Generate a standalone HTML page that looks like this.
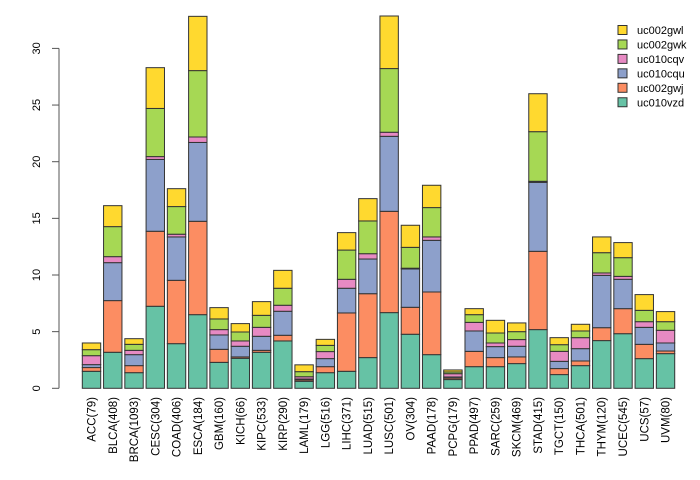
<!DOCTYPE html>
<html><head><meta charset="utf-8">
<style>
html,body{margin:0;padding:0;background:#fff;}
svg{display:block;font-family:"Liberation Sans",sans-serif;}
</style></head>
<body>
<svg id="chart" width="700" height="480" viewBox="0 0 700 480">
<g id="axis"></g>
<g id="bars"></g>
<g id="xlabels"></g>
<g id="legend"></g>
</svg>
<script>
const categories = ["ACC(79)","BLCA(408)","BRCA(1093)","CESC(304)","COAD(406)","ESCA(184)","GBM(160)","KICH(66)","KIPC(533)","KIRP(290)","LAML(179)","LGG(516)","LIHC(371)","LUAD(515)","LUSC(501)","OV(304)","PAAD(178)","PCPG(179)","PPAD(497)","SARC(259)","SKCM(469)","STAD(415)","TGCT(150)","THCA(501)","THYM(120)","UCEC(545)","UCS(57)","UVM(80)"];
const seriesNames = ["uc010vzd","uc002gwj","uc010cqu","uc010cqv","uc002gwk","uc002gwl"];
const uc010vzd = [1.5,3.18,1.38,7.24,3.94,6.5,2.29,2.65,3.18,4.18,0.62,1.38,1.5,2.71,6.68,4.77,2.97,0.77,1.91,1.91,2.18,5.18,1.21,2.0,4.21,4.82,2.62,3.06];
const uc002gwj = [0.33,4.56,0.62,6.62,5.59,8.24,1.15,0.12,0.17,0.5,0.12,0.53,5.15,5.64,8.94,2.38,5.53,0.13,1.35,0.8,0.59,6.91,0.53,0.41,1.14,2.21,1.26,0.23];
const uc010cqu = [0.26,3.35,0.97,6.34,3.83,6.96,1.27,0.94,1.24,2.12,0.08,0.71,2.18,3.06,6.62,3.38,4.56,0.1,1.8,0.97,0.94,6.09,0.64,1.09,4.62,2.59,1.5,0.71];
const uc010cqv = [0.79,0.53,0.38,0.25,0.24,0.48,0.47,0.47,0.79,0.53,0.2,0.62,0.79,0.47,0.36,0.07,0.3,0.29,0.76,0.32,0.59,0.09,0.88,0.97,0.21,0.26,0.5,1.12];
const uc002gwk = [0.53,2.65,0.53,4.25,2.44,5.86,0.94,0.79,1.06,1.5,0.45,0.55,2.58,2.89,5.62,1.84,2.59,0.15,0.68,0.88,0.7,4.38,0.59,0.59,1.79,1.65,1.0,0.76];
const uc002gwl = [0.59,1.85,0.5,3.6,1.58,4.79,1.0,0.74,1.21,1.58,0.6,0.53,1.54,1.97,4.64,1.95,1.97,0.18,0.53,1.12,0.77,3.35,0.62,0.59,1.39,1.33,1.39,0.89];
const yTicks = [0,5,10,15,20,25,30];

const series = [uc010vzd,uc002gwj,uc010cqu,uc010cqv,uc002gwk,uc002gwl];
const colors = ["#66c2a5","#fc8d62","#8da0cb","#e78ac3","#a6d854","#ffd92f"];
const NS = "http://www.w3.org/2000/svg";
const y0 = 388.3, pxPerUnit = 11.33;
function yScale(v){ return y0 - v*pxPerUnit; }
const firstCenter = 91.5, step = 21.26, barW = 18.4;
function xScale(i){ return firstCenter + i*step; }
function mk(tag, attrs, parent){ const e=document.createElementNS(NS,tag); for(const k in attrs) e.setAttribute(k,attrs[k]); parent.appendChild(e); return e; }

const axis = document.getElementById('axis');
const axLine = mk('line',{x1:59,x2:59,y1:yScale(0),y2:yScale(30),stroke:'#555','stroke-width':1},axis);


yTicks.forEach(t=>{
  const tk = mk('line',{x1:52,x2:59,y1:yScale(t),y2:yScale(t),stroke:'#555','stroke-width':1},axis);
  
  
  const y = yScale(t);
  const lb = mk('text',{x:0,y:0,transform:`translate(40,${y}) rotate(-90)`,'text-anchor':'middle','font-size':11,fill:'#000'},axis);
  lb.textContent = t;
  
  
});

const bars = document.getElementById('bars');
const xl = document.getElementById('xlabels');
categories.forEach((c,i)=>{
  let cum = 0;
  const cx = xScale(i);
  series.forEach((s,j)=>{
    const v = s[i];
    const top = yScale(cum+v), bot = yScale(cum);
    const r = mk('rect',{x:cx-barW/2,y:top,width:barW,height:Math.max(bot-top,0),fill:colors[j],stroke:'#333','stroke-width':1},bars);
    
    
    cum += v;
  });
  const t = mk('text',{x:0,y:0,transform:`translate(${cx+4},397) rotate(-90)`,'text-anchor':'end','font-size':11.5,fill:'#000'},xl);
  t.textContent = c;
  
  
});

const lg = document.getElementById('legend');
const order = [5,4,3,2,1,0];
order.forEach((j,k)=>{
  const y = 30 + k*14.45;
  const b = mk('rect',{x:618,y:y-4.5,width:9,height:9,fill:colors[j],stroke:'#333','stroke-width':1},lg);
  
  
  const t = mk('text',{x:637,y:y+4,'font-size':11,fill:'#000'},lg);
  t.textContent = seriesNames[j];
  
  
});
</script>
</body></html>
